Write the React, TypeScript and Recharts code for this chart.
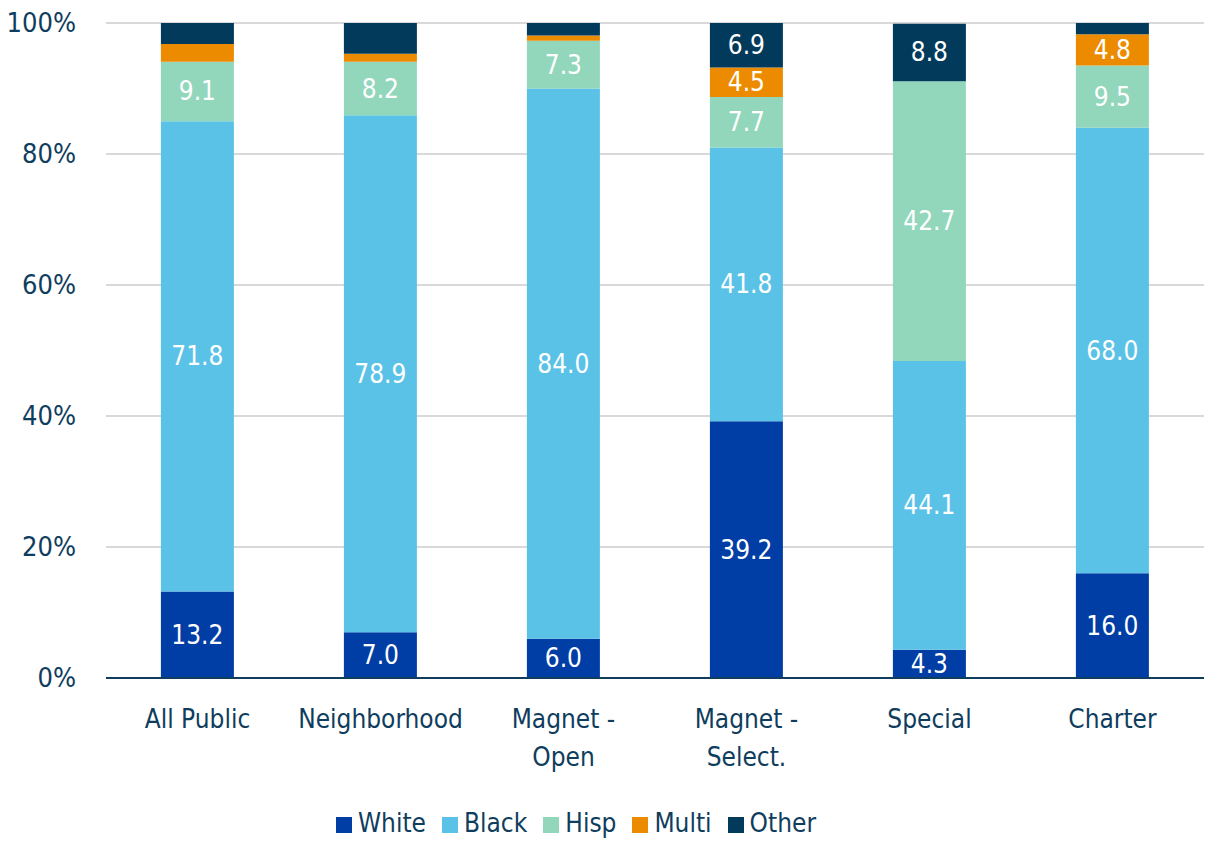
import { BarChart, Bar, XAxis, YAxis, CartesianGrid, Legend, LabelList } from 'recharts';

const categories = ['All Public', 'Neighborhood', 'Magnet - Open', 'Magnet - Select.', 'Special', 'Charter'];
const white = [13.2, 7.0, 6.0, 39.2, 4.3, 16.0];
const black = [71.8, 78.9, 84.0, 41.8, 44.1, 68.0];
const hisp = [9.1, 8.2, 7.3, 7.7, 42.7, 9.5];
const multi = [2.7, 1.2, 0.8, 4.5, 0, 4.8];
const other = [3.2, 4.7, 1.9, 6.9, 8.8, 1.7];
const yTicks = [0, 20, 40, 60, 80, 100];

// labels the reference leaves off even though the segment is big enough
const hiddenLabels = ['Neighborhood:other'];

const series = [
  { key: 'white', name: 'White', color: '#003da5' },
  { key: 'black', name: 'Black', color: '#5bc2e7' },
  { key: 'hisp', name: 'Hisp', color: '#92d6bc' },
  { key: 'multi', name: 'Multi', color: '#ed8b00' },
  { key: 'other', name: 'Other', color: '#023a5c' },
];
const seriesNames = series.map((s) => s.name);

const data = categories.map((name, i) => ({
  name,
  white: white[i],
  black: black[i],
  hisp: hisp[i],
  multi: multi[i],
  other: other[i],
}));

const FONT = '"DejaVu Sans", sans-serif';
const STRETCH = 'condensed';
const TEXT = '#0f3d5e';

function CategoryTick({ x, y, payload }: any) {
  const parts = String(payload.value).split(' - ');
  const lines = parts.length > 1 ? [parts[0] + ' -', parts[1]] : [parts[0]];
  return (
    <text x={x} y={y} textAnchor="middle" fill={TEXT} fontSize={26} fontFamily={FONT} style={{ fontStretch: STRETCH }}>
      {lines.map((l, i) => (
        <tspan key={i} x={x} dy={i === 0 ? 42 : 38}>
          {l}
        </tspan>
      ))}
    </text>
  );
}

function YTick({ x, y, payload }: any) {
  return (
    <text x={x} y={y} dy={9} textAnchor="end" fill={TEXT} fontSize={27} fontFamily={FONT} style={{ fontStretch: STRETCH }}>
      {`${payload.value}%`}
    </text>
  );
}

function makeLabel(key: string) {
  return (props: any) => {
    const { x, y, width, height, value, index } = props;
    if (value == null || value < 4) return null;
    if (hiddenLabels.includes(`${categories[index]}:${key}`)) return null;
    return (
      <text
        x={x + width / 2}
        y={y + height / 2}
        dy={9}
        textAnchor="middle"
        fill="#ffffff"
        fontSize={26}
        fontFamily={FONT}
        style={{ fontStretch: STRETCH }}
      >
        {Number(value).toFixed(1)}
      </text>
    );
  };
}

export default function App() {
  return (
    <div style={{ width: 1216, height: 840, fontFamily: FONT, fontStretch: STRETCH }}>
      <BarChart
        width={1216}
        height={840}
        data={data}
        margin={{ top: 15, right: 20, left: 0, bottom: 10 }}
        barCategoryGap="30%"
      >
        <CartesianGrid vertical={false} stroke="#d9d9d9" strokeWidth={2} />
        <XAxis
          dataKey="name"
          tick={<CategoryTick />}
          tickLine={false}
          axisLine={{ stroke: TEXT, strokeWidth: 2 }}
          interval={0}
          height={130}
        />
        <YAxis
          domain={[0, 100]}
          allowDataOverflow
          ticks={yTicks}
          tick={<YTick />}
          tickLine={false}
          axisLine={false}
          width={98}
          tickMargin={24}
        />
        <Legend
          verticalAlign="bottom"
          iconType="square"
          iconSize={16}
          itemSorter={(item: any) => seriesNames.indexOf(item.value)}
          wrapperStyle={{ fontSize: 26, fontFamily: FONT, fontStretch: STRETCH, left: -22 }}
          formatter={(value) => <span style={{ color: TEXT, marginLeft: 2, marginRight: 6 }}>{value}</span>}
        />
        {series.map((s) => (
          <Bar key={s.key} dataKey={s.key} name={s.name} stackId="a" fill={s.color} isAnimationActive={false}>
            <LabelList dataKey={s.key} content={makeLabel(s.key)} />
          </Bar>
        ))}
      </BarChart>
    </div>
  );
}
